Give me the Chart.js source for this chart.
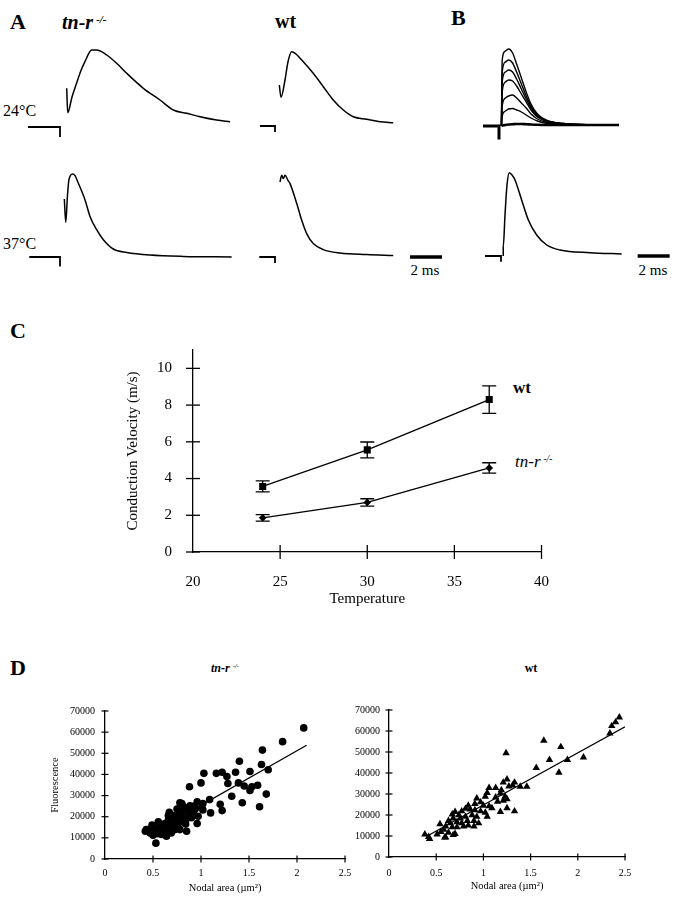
<!DOCTYPE html>
<html><head><meta charset="utf-8">
<script src="https://cdn.jsdelivr.net/npm/chart.js@4.4.1/dist/chart.umd.min.js"></script>
<style>
html,body{margin:0;padding:0;background:#fff;}
body{width:677px;height:899px;position:relative;overflow:hidden;font-family:'Liberation Serif',serif;color:#000;}
canvas{position:absolute;}
.t{position:absolute;white-space:nowrap;line-height:1;transform:translate(0,-50%);}
.c{transform:translate(-50%,-50%);}
.b{font-weight:bold;}
.i{font-style:italic;}
sup{font-size:0.55em;vertical-align:0.55em;margin-left:3px;}
</style></head><body>
<div class="t b" style="left:10px;top:22px;font-size:22px;">A</div>
<div class="t b i" style="left:62px;top:22px;font-size:20px;">tn-r<sup>-/-</sup></div>
<div class="t b" style="left:275px;top:21px;font-size:20px;">wt</div>
<div class="t b" style="left:451px;top:18px;font-size:22px;">B</div>
<div class="t" style="left:3px;top:111px;font-size:16px;">24°C</div>
<div class="t" style="left:3px;top:244px;font-size:16px;">37°C</div>
<div class="t c" style="left:425px;top:270px;font-size:15px;">2 ms</div>
<div class="t c" style="left:653px;top:270px;font-size:15px;">2 ms</div>
<div class="t b" style="left:10px;top:331px;font-size:22px;">C</div>
<div class="t b" style="left:513px;top:387px;font-size:17px;">wt</div>
<div class="t i" style="left:515px;top:461px;font-size:17px;">tn-r<sup>-/-</sup></div>
<div class="t b" style="left:10px;top:668px;font-size:22px;">D</div>
<div class="t c b i" style="left:225px;top:668px;font-size:12px;">tn-r<sup>-/-</sup></div>
<div class="t c b" style="left:531px;top:668px;font-size:12px;">wt</div>

<canvas id="a1" width="224" height="100"></canvas>
<canvas id="a2" width="152" height="100"></canvas>
<canvas id="b1" width="160" height="105"></canvas>
<canvas id="a3" width="224" height="105"></canvas>
<canvas id="a4" width="208" height="105"></canvas>
<canvas id="b2" width="200" height="105"></canvas>
<canvas id="cv" width="470" height="295" style="left:100px;top:320px;"></canvas>
<canvas id="d1" width="320" height="204" style="left:40px;top:695px;"></canvas>
<canvas id="d2" width="347" height="204" style="left:330px;top:695px;"></canvas>
<script>
// ---------- Panel A / B traces (time in ms after stimulus, amplitude in arbitrary units) ----------
const tnr24Time = [0.42, 0.48, 0.75, 1.04, 1.3, 1.56, 1.98, 2.29, 2.92, 3.54, 4.17, 5.21, 6.25, 7.08, 7.92, 8.75, 9.79, 10.63];
const tnr24Amp  = [3.87, 1.43, 3.0, 4.4, 5.6, 6.53, 7.7, 7.7, 7.2, 6.37, 5.37, 3.87, 2.7, 1.7, 1.37, 1.03, 0.7, 0.53];
const tnr24StimTime = [-2.0, 0, 0];
const tnr24StimAmp  = [0, 0, -1.0];

const wt24Time = [0.27, 0.375, 0.625, 0.81, 1.04, 1.31, 1.67, 2.39, 3.02, 3.64, 4.27, 4.89, 5.73, 6.56, 7.39];
const wt24Amp  = [4.1, 2.87, 4.6, 6.4, 7.43, 7.2, 6.6, 5.27, 3.93, 2.6, 1.6, 0.93, 0.67, 0.43, 0.33];
const wt24StimTime = [-0.94, 0, 0];
const wt24StimAmp  = [0, 0, -0.6];

const tnr37Time = [0.27, 0.36, 0.47, 0.56, 0.79, 0.94, 1.14, 1.56, 1.875, 2.29, 2.71, 3.33, 4.17, 5.625, 7.71, 10.73];
const tnr37Amp  = [5.8, 3.46, 6.23, 7.73, 8.3, 8.13, 7.4, 5.73, 4.06, 2.73, 1.73, 0.8, 0.46, 0.2, 0.06, 0];
const tnr37StimTime = [-1.92, 0, 0];
const tnr37StimAmp  = [0, 0, -0.94];

const wt37Time = [0.31, 0.42, 0.52, 0.625, 0.81, 0.94, 1.36, 1.67, 1.98, 2.39, 3.02, 4.06, 5.73, 7.39];
const wt37Amp  = [7.5, 8.17, 7.84, 8.17, 7.67, 7.34, 5.34, 3.67, 2.34, 1.34, 0.74, 0.4, 0.24, 0.14];
const wt37StimTime = [-0.98, 0, 0];
const wt37StimAmp  = [0, 0, -0.6];

const bStimTime = [0.15, 0.2, 0.4, 0.6, 0.85, 1.1, 1.4, 1.7, 2.0, 2.4, 3.0, 4.0, 5.5, 7.5];
const bStim1 = [0, 6.6, 7.5, 7.7, 7.3, 6.2, 4.8, 3.4, 2.2, 1.2, 0.55, 0.25, 0.12, 0.1];
const bStim2 = [0, 5.4, 6.4, 6.6, 6.3, 5.4, 4.2, 3.0, 2.0, 1.1, 0.5, 0.25, 0.12, 0.1];
const bStim3 = [0, 4.4, 5.4, 5.6, 5.4, 4.7, 3.7, 2.7, 1.8, 1.0, 0.5, 0.25, 0.12, 0.1];
const bStim4 = [0, 3.4, 4.4, 4.6, 4.5, 4.0, 3.2, 2.4, 1.6, 0.9, 0.45, 0.2, 0.1, 0.1];
const bStim5 = [0, 2.0, 2.8, 3.0, 3.1, 2.8, 2.3, 1.8, 1.2, 0.7, 0.35, 0.2, 0.1, 0.1];
const bStim6 = [0, 1.0, 1.5, 1.7, 1.75, 1.6, 1.4, 1.1, 0.8, 0.5, 0.25, 0.15, 0.1, 0.1];
const bStim7 = [0, 0.05, 0.1, 0.15, 0.18, 0.2, 0.2, 0.18, 0.15, 0.12, 0.1, 0.1, 0.1, 0.1];
const bTopStimTime = [-1.0, 0, 0];
const bTopStimAmp  = [0, 0, -1.36];

const b37Time = [0.14, 0.14, 0.25, 0.375, 0.52, 0.69, 0.875, 1.29, 1.71, 2.23, 2.86, 3.69, 5.56, 7.54];
const b37Amp  = [0, 0.93, 4.1, 7.1, 8.33, 8.1, 7.6, 5.6, 3.6, 2.1, 1.1, 0.6, 0.33, 0.2];
const b37StimTime = [-1.0, 0, 0];
const b37StimAmp  = [0, 0, -0.57];

const scaleBarMs = 2;

// ---------- Panel C ----------
const temperatures = [24, 30, 37];
const wtVelocity = [3.57, 5.56, 8.3];
const wtError = [0.3, 0.43, 0.75];
const tnrVelocity = [1.86, 2.7, 4.58];
const tnrError = [0.18, 0.2, 0.28];

// ---------- Panel D ----------
const tnrArea = [2.07,1.85,1.64,1.40,1.63,1.70,1.51,1.36,1.22,1.16,1.27,1.03,1.00,1.28,1.39,1.45,1.53,1.51,1.59,0.88,1.32,1.68,1.09,1.20,1.22,1.10,1.43,1.61,1.02,1.02,0.96,0.96,0.85,0.53,
  0.80,0.78,0.94,0.92,0.87,0.82,0.67,0.85,0.80,0.75,0.71,0.76,0.66,0.625,0.68,0.61,0.555,0.57,0.52,0.555,0.49,0.43,0.47,0.50,0.59,0.64,0.69,0.73,0.78,0.42,0.71,0.66,0.885,0.97,0.82,0.885,0.75,1.01,
  0.60,0.63,0.74,0.79,0.83,0.90,0.88,0.93,0.70,0.62,0.55,0.46,0.73,0.77,0.84,0.65];
const tnrFluor = [62000,55500,51500,46200,44700,42200,41400,41000,41000,40500,39000,40500,36000,35700,36000,34500,34200,32400,34900,34200,29700,30700,28100,25900,22900,21800,26600,24700,26200,23200,27000,16800,13100,7500,
  26200,26600,23600,22100,23600,22900,22100,19100,19900,19100,17600,16100,18400,16800,15400,14600,17600,15400,14600,13100,16100,13900,12300,11200,11600,10800,12300,13900,13900,13100,20600,20600,20600,20200,24700,25200,23600,24400,
  12500,13500,17000,17800,18200,19500,21500,25000,15000,11800,12000,14000,18700,21000,16500,16000];
const tnrFitArea = [0.45, 2.1];
const tnrFitFluor = [11200, 53800];

const wtArea = [2.44,2.40,2.36,2.34,1.64,1.82,1.24,1.89,2.06,1.70,1.56,1.80,1.39,1.46,1.31,1.25,1.21,1.33,1.27,1.13,1.06,1.19,1.04,1.02,1.13,1.18,1.23,1.15,1.21,1.25,
  0.93,0.97,0.91,1.00,1.06,1.09,1.18,1.25,1.33,0.84,0.86,0.81,0.77,0.91,0.97,1.02,0.93,1.04,0.88,0.70,0.74,0.67,0.68,0.755,0.81,0.63,0.65,0.72,0.77,0.83,0.90,0.95,0.79,0.84,0.90,0.60,0.58,0.67,0.72,0.54,0.63,0.68,0.59,0.51,0.42,0.38,0.43,0.55,0.70,0.60];
const wtFluor = [66500,64200,62400,58900,55400,52400,49500,46300,47500,46300,42500,40200,33500,33500,34100,37000,35500,35500,33700,32900,32900,31900,30600,28800,28400,30300,28800,26400,26900,27600,
  27900,26100,25300,24500,24200,23300,21500,23300,21800,24500,22700,23000,21800,22300,21800,21200,19200,19200,20000,21500,20000,20300,18400,18400,19200,17200,16100,16600,16100,17200,17200,16100,14600,15100,14600,14600,13100,14200,14200,15700,11600,10500,9300,10800,9600,10800,8700,12000,11000,9400];
const wtFitArea = [0.4, 2.5];
const wtFitFluor = [9900, 62000];

// ---------- helpers ----------
Chart.defaults.font.family = "'Liberation Serif', serif";
Chart.defaults.color = '#000';
const PX_PER_MS = 16, PX_PER_UNIT = 10;
const base = {responsive:false, animation:false, devicePixelRatio:1, events:[],
  plugins:{legend:{display:false}, tooltip:{enabled:false}}};

const scaleBarPlugin = {
  id:'scaleBar',
  afterDatasetsDraw(chart, args, opts){
    if (opts.t0 === undefined) return;
    const {ctx, scales:{x,y}} = chart;
    const py = y.getPixelForValue(opts.v || 0);
    ctx.save(); ctx.strokeStyle='#000'; ctx.lineWidth=3.5; ctx.lineCap='butt';
    ctx.beginPath(); ctx.moveTo(x.getPixelForValue(opts.t0), py); ctx.lineTo(x.getPixelForValue(opts.t0+scaleBarMs), py); ctx.stroke();
    ctx.restore();
  }
};

function ds(times, amps, w){
  return {data: times.map((t,i)=>({x:t, y:amps[i]})), borderColor:'#000', borderWidth:w||1.5,
    pointRadius:0, fill:false, cubicInterpolationMode:'monotone', clip:false};
}
function traceChart(id, stimX, baseY, tMin, tMax, vMin, vMax, datasets, bar){
  const cv = document.getElementById(id);
  cv.style.left = (stimX + tMin*PX_PER_MS) + 'px';
  cv.style.top = (baseY - vMax*PX_PER_UNIT) + 'px';
  cv.width = (tMax - tMin)*PX_PER_MS; cv.height = (vMax - vMin)*PX_PER_UNIT;
  new Chart(cv, {type:'line', data:{datasets},
    options:{...base, layout:{padding:0},
      plugins:{...base.plugins, scaleBar: bar || {}},
      scales:{x:{type:'linear', min:tMin, max:tMax, display:false}, y:{type:'linear', min:vMin, max:vMax, display:false}}},
    plugins:[scaleBarPlugin]});
}

traceChart('a1', 60, 127, -2.5, 11.5, -1.5, 8.5, [ds(tnr24StimTime, tnr24StimAmp, 1.8), ds(tnr24Time, tnr24Amp)]);
traceChart('a2', 275, 126, -1.5, 8, -1.5, 8.5, [ds(wt24StimTime, wt24StimAmp, 1.8), ds(wt24Time, wt24Amp)]);
traceChart('b1', 499.3, 125.7, -1.5, 8.5, -2, 8.5, [ds(bTopStimTime, bTopStimAmp, 3),
  ds(bStimTime, bStim1, 1.4), ds(bStimTime, bStim2, 1.4), ds(bStimTime, bStim3, 1.4), ds(bStimTime, bStim4, 1.4),
  ds(bStimTime, bStim5, 1.4), ds(bStimTime, bStim6, 1.4), ds(bStimTime, bStim7, 2.6)]);
traceChart('a3', 60, 257.3, -2.5, 11.5, -1.5, 9, [ds(tnr37StimTime, tnr37StimAmp, 1.8), ds(tnr37Time, tnr37Amp)]);
traceChart('a4', 275, 256.7, -1.5, 11.5, -1.5, 9, [ds(wt37StimTime, wt37StimAmp, 1.8), ds(wt37Time, wt37Amp)], {t0:8.44, v:0});
traceChart('b2', 501, 256, -1.5, 11, -1.5, 9, [ds(b37StimTime, b37StimAmp, 1.8), ds(b37Time, b37Amp)], {t0:8.54, v:0});

// crossing tick marks
const crossTicks = {
  id:'crossTicks',
  afterDraw(chart, args, opts){
    const {ctx, chartArea:ca, scales:{x,y}} = chart;
    const L = opts.len || 4;
    ctx.save(); ctx.strokeStyle='#000'; ctx.lineWidth=opts.width||1.2;
    x.ticks.forEach(t=>{ if (t.value===x.min) return; const px=x.getPixelForValue(t.value); ctx.beginPath(); ctx.moveTo(px, ca.bottom-L); ctx.lineTo(px, ca.bottom+L); ctx.stroke(); });
    y.ticks.forEach(t=>{ const py=y.getPixelForValue(t.value); ctx.beginPath(); ctx.moveTo(ca.left-L, py); ctx.lineTo(ca.left+L, py); ctx.stroke(); });
    ctx.restore();
  }
};
const errorBars = {
  id:'errorBars',
  afterDatasetsDraw(chart){
    const {ctx, scales:{x,y}} = chart;
    ctx.save(); ctx.strokeStyle='#000'; ctx.lineWidth=1.3;
    chart.data.datasets.forEach(d=>{
      if (!d.err) return;
      d.data.forEach((p,i)=>{
        const px=x.getPixelForValue(p.x), hi=y.getPixelForValue(p.y+d.err[i]), lo=y.getPixelForValue(p.y-d.err[i]);
        ctx.beginPath(); ctx.moveTo(px,hi); ctx.lineTo(px,lo);
        ctx.moveTo(px-7,hi); ctx.lineTo(px+7,hi); ctx.moveTo(px-7,lo); ctx.lineTo(px+7,lo); ctx.stroke();
      });
    });
    ctx.restore();
  }
};

// ---------- Panel C chart ----------
new Chart(document.getElementById('cv'), {
  type:'line',
  data:{datasets:[
    {label:'wt', data: temperatures.map((t,i)=>({x:t, y:wtVelocity[i]})), err: wtError,
     pointStyle:'rect', pointRadius:5, backgroundColor:'#000', borderColor:'#000', borderWidth:1.3, pointBorderWidth:0},
    {label:'tn-r -/-', data: temperatures.map((t,i)=>({x:t, y:tnrVelocity[i]})), err: tnrError,
     pointStyle:'rectRot', pointRadius:3.8, backgroundColor:'#000', borderColor:'#000', borderWidth:1.3, pointBorderWidth:0}
  ]},
  options:{...base, layout:{padding:{top:15, right:27, left:0, bottom:0}},
    plugins:{...base.plugins, crossTicks:{len:7, width:1.3}},
    scales:{
      x:{type:'linear', min:20, max:40,
        ticks:{stepSize:5, padding:21, font:{size:15}, color:'#000', callback:v=>String(v)},
        grid:{display:false, drawTicks:false}, border:{display:true, color:'#000', width:1.3},
        title:{display:true, text:'Temperature', font:{size:15}, color:'#000', padding:{top:0, bottom:7}},
        afterFit(s){ s.height = 63; }},
      y:{type:'linear', min:0, max:11,
        afterBuildTicks(s){ s.ticks = s.ticks.filter(t=>t.value<=10); },
        ticks:{stepSize:2, padding:21, font:{size:15}, color:'#000', callback:v=>String(v)},
        grid:{display:false, drawTicks:false}, border:{display:true, color:'#000', width:1.3},
        title:{display:true, text:'Conduction Velocity (m/s)', font:{size:15}, color:'#000', padding:{top:24, bottom:0}},
        afterFit(s){ s.width = 93; }}
    }},
  plugins:[errorBars, crossTicks]
});

// ---------- Panel D charts ----------
function scatterChart(id, xs, ys, fx, fy, style, radius, yTitle, dims){
  new Chart(document.getElementById(id), {
    type:'scatter',
    data:{datasets:[
      {data: xs.map((v,i)=>({x:v, y:ys[i]})), pointStyle:style, pointRadius:radius, backgroundColor:'#000', borderColor:'#000', borderWidth:0},
      {type:'line', data: fx.map((v,i)=>({x:v, y:fy[i]})), showLine:true, pointRadius:0, borderColor:'#000', borderWidth:1.3, fill:false}
    ]},
    options:{...base, layout:{padding:{top:9, right:dims.right, left:0, bottom:0}},
      plugins:{...base.plugins, crossTicks:{len:3.5, width:1.2}},
      scales:{
        x:{type:'linear', min:0, max:2.5,
          ticks:{stepSize:0.5, padding:dims.xpad, font:{size:10}, color:'#000', callback:v=>String(v)},
          grid:{display:false, drawTicks:false}, border:{display:true, color:'#000', width:1.3},
          title:{display:true, text:'Nodal area (µm²)', font:{size:10.5}, color:'#000', padding:{top:0, bottom:dims.tpad}},
          afterFit(s){ s.height = dims.xh; }},
        y:{type:'linear', min:0, max:70000,
          ticks:{stepSize:10000, padding:dims.ypad, font:{size:10}, color:'#000', callback:v=>String(v)},
          grid:{display:false, drawTicks:false}, border:{display:true, color:'#000', width:1.3},
          title:{display:!!yTitle, text:yTitle||'', font:{size:10.5}, color:'#000', padding:{top:9, bottom:0}},
          afterFit(s){ s.width = dims.yw; }}
      }},
    plugins:[crossTicks]
  });
}
scatterChart('d1', tnrArea, tnrFluor, tnrFitArea, tnrFitFluor, 'circle', 3.8, 'Fluorescence', {right:15, xpad:8, tpad:4, xh:40, ypad:10, yw:65});
scatterChart('d2', wtArea, wtFluor, wtFitArea, wtFitFluor, 'triangle', 4.3, '', {right:52, xpad:10, tpad:6, xh:42, ypad:9, yw:59});
</script>
</body></html>
